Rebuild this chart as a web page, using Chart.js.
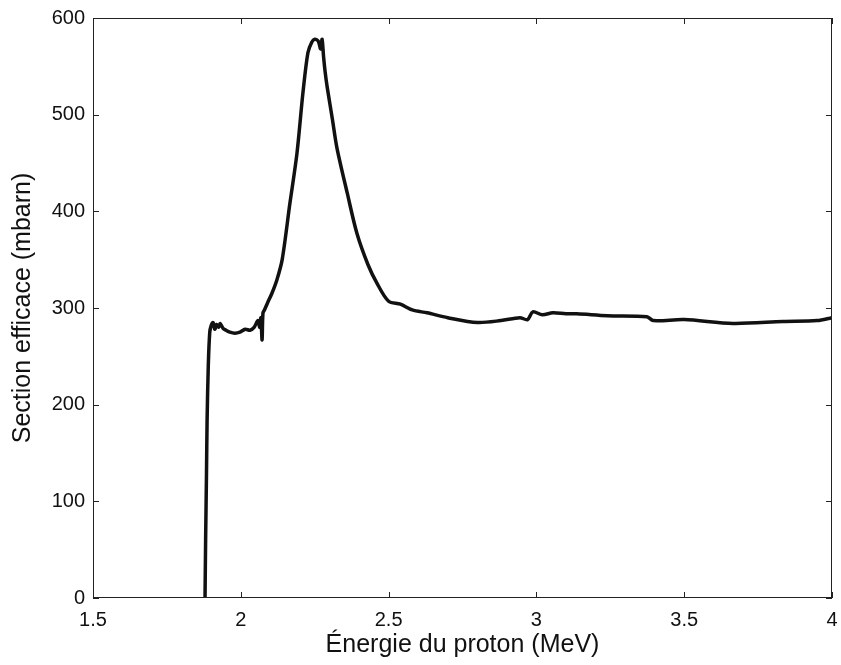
<!DOCTYPE html>
<html>
<head>
<meta charset="utf-8">
<script src="https://cdn.jsdelivr.net/npm/chart.js@4"></script>
<style>
  html, body { margin: 0; padding: 0; background: #fff; }
  #wrap { width: 841px; height: 665px; }
</style>
</head>
<body>
<div id="wrap"><canvas id="crossSection"></canvas></div>
<script>
// Energie du proton (MeV)
const energy = [1.879, 1.881, 1.884, 1.886, 1.890, 1.895, 1.900, 1.906, 1.912, 1.918, 1.925, 1.930,
    1.940, 1.950, 1.963, 1.980, 1.997, 2.015, 2.031, 2.045, 2.058, 2.064, 2.068, 2.072, 2.075,
    2.080, 2.090, 2.105, 2.122, 2.140, 2.166, 2.190, 2.210, 2.227, 2.240, 2.250, 2.262, 2.270,
    2.275, 2.280, 2.285, 2.292, 2.310, 2.325, 2.360, 2.393, 2.430, 2.460, 2.500, 2.540, 2.580,
    2.630, 2.700, 2.800, 2.880, 2.944, 2.970, 2.988, 3.020, 3.056, 3.100, 3.137, 3.240, 3.374,
    3.395, 3.500, 3.665, 3.834, 3.950, 4.000];
// Section efficace (mbarn)
const section = [0, 60, 130, 184, 240, 275, 282, 285, 278, 283, 280, 284,
    279, 277, 275, 274, 275, 278, 277, 280, 287, 280, 290, 267, 295,
    298, 305, 315, 329, 350, 408, 460, 522, 564, 575, 578, 576, 568,
    578, 560, 545, 529, 495, 466, 419, 377, 345, 326, 307, 304, 298,
    295, 290, 285, 287, 290, 288, 296, 293, 295, 294, 294, 292, 291,
    287, 288, 284, 286, 287, 290];

const xTicks = [1.5, 2, 2.5, 3, 3.5, 4];
const yTicks = [0, 100, 200, 300, 400, 500, 600];

const points = energy.map((e, i) => ({ x: e, y: section[i] }));

// MATLAB-style box with inward ticks on all four sides
const boxTicks = {
    id: 'boxTicks',
    afterDraw(chart) {
        const { ctx, chartArea: a, scales } = chart;
        const len = 6;
        ctx.save();
        ctx.strokeStyle = '#222';
        ctx.lineWidth = 1;
        ctx.strokeRect(a.left + 0.5, a.top + 0.5, a.right - a.left - 1, a.bottom - a.top - 1);
        ctx.beginPath();
        xTicks.forEach(v => {
            const px = Math.round(scales.x.getPixelForValue(v)) + 0.5;
            ctx.moveTo(px, a.bottom); ctx.lineTo(px, a.bottom - len);
            ctx.moveTo(px, a.top); ctx.lineTo(px, a.top + len);
        });
        yTicks.forEach(v => {
            const py = Math.round(scales.y.getPixelForValue(v)) + 0.5;
            ctx.moveTo(a.left, py); ctx.lineTo(a.left + len, py);
            ctx.moveTo(a.right, py); ctx.lineTo(a.right - len, py);
        });
        ctx.stroke();
        ctx.restore();
    }
};

const fam = 'Liberation Sans, Arial, sans-serif';
const tickFont = { family: fam, size: 20 };
const titleFont = { family: fam, size: 25 };

new Chart(document.getElementById('crossSection'), {
    type: 'line',
    data: {
        datasets: [{
            data: points,
            borderColor: '#111',
            borderWidth: 3.5,
            tension: 0.3,
            fill: false,
            pointRadius: 0
        }]
    },
    options: {
        responsive: true,
        maintainAspectRatio: false,
        animation: false,
        layout: { padding: { top: 18, right: 9, left: 0, bottom: 0 } },
        plugins: {
            legend: { display: false },
            tooltip: { enabled: false }
        },
        scales: {
            x: {
                type: 'linear',
                min: 1.5,
                max: 4,
                afterFit(scale) {
                    scale.height = 67;
                    scale.paddingLeft = 0;
                    scale.paddingRight = 0;
                },
                afterBuildTicks(scale) { scale.ticks = xTicks.map(v => ({ value: v })); },
                grid: { display: false, drawTicks: false },
                border: { display: false },
                ticks: { color: '#111', font: tickFont, padding: 10, maxRotation: 0, callback: v => String(v) },
                title: {
                    display: true,
                    text: 'Énergie du proton (MeV)',
                    color: '#111',
                    font: titleFont,
                    padding: { top: 0, bottom: 5 }
                }
            },
            y: {
                min: 0,
                max: 600,
                afterFit(scale) {
                    scale.width = 93;
                    scale.paddingTop = 0;
                    scale.paddingBottom = 0;
                },
                afterBuildTicks(scale) { scale.ticks = yTicks.map(v => ({ value: v })); },
                grid: { display: false, drawTicks: false },
                border: { display: false },
                ticks: { color: '#111', font: tickFont, padding: 8, callback: v => String(v) },
                title: {
                    display: true,
                    text: 'Section efficace (mbarn)',
                    color: '#111',
                    font: titleFont,
                    padding: { top: 8, bottom: 0 }
                }
            }
        }
    },
    plugins: [boxTicks]
});
</script>
</body>
</html>
